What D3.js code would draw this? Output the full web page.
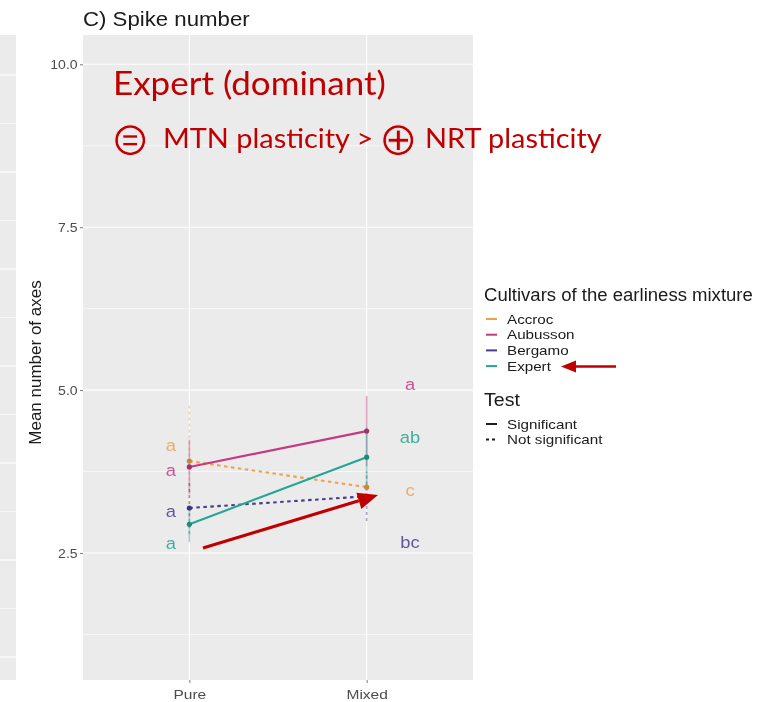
<!DOCTYPE html>
<html>
<head>
<meta charset="utf-8">
<script src="https://cdn.jsdelivr.net/npm/d3@7"></script>
<style>
  html, body { margin: 0; padding: 0; background: #fff; }
  svg { display: block; }
</style>
</head>
<body>
<script>
// Spike number: mean number of axes per cultivar, pure vs mixed stands
const cultivars = ["Accroc", "Aubusson", "Bergamo", "Expert"];
const systems = ["Pure", "Mixed"];
const meanPure = [3.91, 3.82, 3.19, 2.94];
const meanMixed = [3.51, 4.37, 3.37, 3.97];
const errPure = [0.85, 0.42, 0.40, 0.27];
const errMixed = [0.22, 0.54, 0.38, 0.45];
const significant = [false, true, false, true];
const lettersPure = ["a", "a", "a", "a"];
const lettersMixed = ["c", "a", "bc", "ab"];
const letterYPure = [4.16, 3.77, 3.14, 2.65];
const letterYMixed = [3.47, 5.09, 2.67, 4.28];
const yTicks = [2.5, 5.0, 7.5, 10.0];
const yMinor = [1.25, 3.75, 6.25, 8.75];
const colors = ["#EFA04E", "#C43A80", "#473E90", "#26A592"];
const testLabels = ["Significant", "Not significant"];

const W = 774, H = 702;
const panel = { left: 83, right: 473, top: 35, bottom: 680 };
const SANS = "'Liberation Sans', Arial, sans-serif";
const PANEL_BG = "#EBEBEB";

const svg = d3.select("body").append("svg")
  .attr("width", W).attr("height", H)
  .style("font-family", SANS);

const defs = svg.append("defs");
defs.append("filter").attr("id", "soft")
  .append("feGaussianBlur").attr("stdDeviation", 0.55);

// horizontal text with a slight width stretch
function label(g, x, y, txt, size, sx = 1.12) {
  return g.append("text")
    .attr("transform", `translate(${x},${y}) scale(${sx},1)`)
    .style("font-size", size + "px").text(txt);
}

const plot = svg.append("g").attr("filter", "url(#soft)");

// neighbouring facet strip on the far left
const strip = plot.append("g");
strip.append("rect").attr("x", 0).attr("y", panel.top).attr("width", 16)
  .attr("height", panel.bottom - panel.top).attr("fill", PANEL_BG);
const stripScale = d3.scaleLinear().domain([0, 12]).range([75, 657]);
strip.selectAll("line").data(d3.range(0, 13)).join("line")
  .attr("x1", 0).attr("x2", 16)
  .attr("y1", d => stripScale(d)).attr("y2", d => stripScale(d))
  .attr("stroke", "#fff").attr("stroke-width", d => d % 2 ? 0.6 : 1.1);

// scales (1..10 with 5% expansion, discrete x with 0.6 padding)
const y = d3.scaleLinear().domain([0.55, 10.45]).range([panel.bottom, panel.top]);
const x = d3.scalePoint().domain(systems).range([panel.left, panel.right]).padding(0.6);
const xNum = d3.scaleLinear().domain([1, 2]).range([x("Pure"), x("Mixed")]);

plot.append("rect")
  .attr("x", panel.left).attr("y", panel.top)
  .attr("width", panel.right - panel.left).attr("height", panel.bottom - panel.top)
  .attr("fill", PANEL_BG);

// grid
plot.append("g").selectAll("line").data(yMinor).join("line")
  .attr("x1", panel.left).attr("x2", panel.right)
  .attr("y1", d => y(d)).attr("y2", d => y(d))
  .attr("stroke", "#fff").attr("stroke-width", 0.6);
plot.append("g").selectAll("line").data(yTicks).join("line")
  .attr("x1", panel.left).attr("x2", panel.right)
  .attr("y1", d => y(d)).attr("y2", d => y(d))
  .attr("stroke", "#fff").attr("stroke-width", 1.1);
plot.append("g").selectAll("line").data(systems).join("line")
  .attr("x1", d => x(d)).attr("x2", d => x(d))
  .attr("y1", panel.top).attr("y2", panel.bottom)
  .attr("stroke", "#fff").attr("stroke-width", 1.1);

// axes
const yAxis = d3.axisLeft(y).tickValues(yTicks).tickFormat(d3.format(".1f")).tickSize(3).tickPadding(2);
const gy = plot.append("g").attr("transform", `translate(${panel.left},0)`).call(yAxis);
gy.select(".domain").remove();
gy.selectAll(".tick line").attr("stroke", "#555").attr("stroke-width", 0.8);
gy.selectAll(".tick text").attr("fill", "#4D4D4D").style("font-size", "13px")
  .style("font-family", SANS).attr("transform", "scale(1.08,1)");

const xAxis = d3.axisBottom(x).tickSize(3).tickPadding(6);
const gx = plot.append("g").attr("transform", `translate(0,${panel.bottom})`).call(xAxis);
gx.select(".domain").remove();
gx.selectAll(".tick line").attr("stroke", "#555").attr("stroke-width", 0.8);
gx.selectAll(".tick text").attr("fill", "#4D4D4D").style("font-size", "13.5px")
  .style("font-family", SANS).attr("transform", "scale(1.15,1)");

plot.append("text")
  .attr("transform", `translate(41,${(panel.top + panel.bottom) / 2 + 5}) rotate(-90)`)
  .attr("text-anchor", "middle").attr("fill", "#1A1A1A").style("font-size", "17px")
  .text("Mean number of axes");

label(plot, panel.left, 26, "C) Spike number", 19.5, 1.14).attr("fill", "#1A1A1A");

// records per cultivar
const rows = cultivars.map((c, i) => ({
  name: c, color: colors[i], sig: significant[i],
  pts: [
    { s: "Pure", m: meanPure[i], e: errPure[i] },
    { s: "Mixed", m: meanMixed[i], e: errMixed[i] }
  ]
}));

// error bars
const eb = plot.append("g");
rows.forEach(r => {
  eb.selectAll(null).data(r.pts).join("line")
    .attr("x1", d => x(d.s)).attr("x2", d => x(d.s))
    .attr("y1", d => y(d.m - d.e)).attr("y2", d => y(d.m + d.e))
    .attr("stroke", r.color).attr("stroke-width", 1.6).attr("stroke-opacity", 0.45)
    .attr("stroke-dasharray", r.sig ? null : "3,3");
});

// mean lines
const line = d3.line().x(d => x(d.s)).y(d => y(d.m));
const lines = plot.append("g");
// dashed series first, solid on top
const order = [0, 2, 1, 3];
order.forEach(i => {
  const r = rows[i];
  lines.append("path").datum(r.pts).attr("d", line)
    .attr("fill", "none").attr("stroke", r.color).attr("stroke-width", 2.1)
    .attr("stroke-dasharray", r.sig ? null : "3.5,3.5");
  lines.selectAll(null).data(r.pts).join("circle")
    .attr("cx", d => x(d.s)).attr("cy", d => y(d.m)).attr("r", 2.6)
    .attr("fill", d3.color(r.color).darker(0.5));
});

// compact letter display
const letters = plot.append("g").attr("text-anchor", "middle");
cultivars.forEach((c, i) => {
  label(letters, xNum(0.895), y(letterYPure[i]) + 6, lettersPure[i], 17, 1.08)
    .attr("fill", colors[i]).attr("fill-opacity", 0.85);
  label(letters, xNum(2.245), y(letterYMixed[i]) + 6, lettersMixed[i], 17, 1.08)
    .attr("fill", colors[i]).attr("fill-opacity", 0.85);
});

// legend
const lg = plot.append("g").attr("transform", "translate(484,0)").attr("fill", "#1A1A1A");
label(lg, 0, 301, "Cultivars of the earliness mixture", 17.5, 1.06);
cultivars.forEach((c, i) => {
  const yy = 319 + i * 15.7;
  lg.append("line").attr("x1", 2).attr("x2", 13).attr("y1", yy).attr("y2", yy)
    .attr("stroke", colors[i]).attr("stroke-width", 2);
  label(lg, 23, yy + 4.5, c, 13, 1.17);
});
label(lg, 0, 406, "Test", 17.5, 1.12);
testLabels.forEach((t, i) => {
  const yy = 424 + i * 15.5;
  lg.append("line").attr("x1", 2).attr("x2", 13).attr("y1", yy).attr("y2", yy)
    .attr("stroke", "#1A1A1A").attr("stroke-width", 2)
    .attr("stroke-dasharray", i === 0 ? null : "3,3");
  label(lg, 23, yy + 4.5, t, 13, 1.17);
});

// annotations
const red = "#C00000";
const ann = svg.append("g").attr("fill", red).style("font-family", "Lato, 'Open Sans', sans-serif");
label(ann, 113, 95, "Expert (dominant)", 33, 1.06);
// circled operators, lightly thinned with a panel-coloured outline
function symbol(xp, ch) {
  ann.append("text").attr("x", xp).attr("y", 154.5)
    .style("font-family", "'DejaVu Sans', sans-serif").style("font-size", "47px")
    .attr("stroke", PANEL_BG).attr("stroke-width", 0.8).attr("stroke-linejoin", "round")
    .style("paint-order", "fill")
    .text(ch);
}
symbol(110.5, "\u229C");
label(ann, 163, 148, "MTN plasticity >", 27, 1.07);
symbol(378.5, "\u2295");
label(ann, 425, 148, "NRT plasticity", 27, 1.07);

function arrow(g, x0, y0, x1, y1, len, wid, sw) {
  const a = Math.atan2(y1 - y0, x1 - x0);
  const bx = x1 - len * Math.cos(a), by = y1 - len * Math.sin(a);
  const px = -Math.sin(a) * wid / 2, py = Math.cos(a) * wid / 2;
  g.append("line").attr("x1", x0).attr("y1", y0).attr("x2", bx).attr("y2", by)
    .attr("stroke", red).attr("stroke-width", sw);
  g.append("path").attr("d", `M${x1},${y1}L${bx + px},${by + py}L${bx - px},${by - py}Z`).attr("fill", red);
}
const arrows = svg.append("g");
arrow(arrows, 203, 548, 378, 495, 20, 17, 3);
arrow(arrows, 616, 366.5, 561, 366.5, 15, 12, 2.5);
</script>
</body>
</html>
